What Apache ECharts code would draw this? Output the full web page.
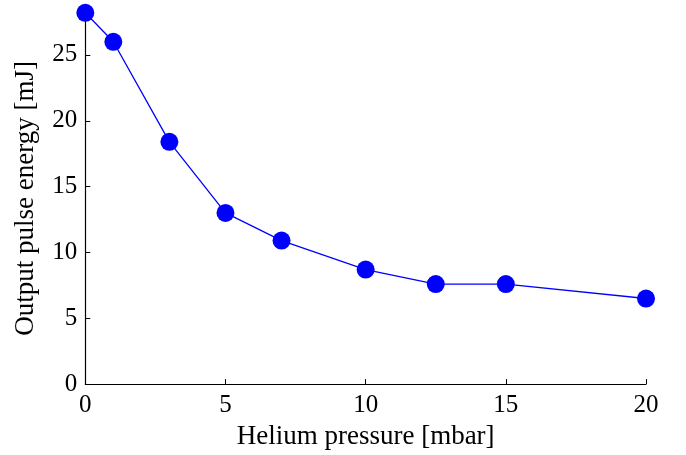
<!DOCTYPE html>
<html><head><meta charset="utf-8">
<script src="https://cdn.jsdelivr.net/npm/echarts@6/dist/echarts.min.js"></script>
<style>html,body{margin:0;padding:0;background:#fff}#c{width:686px;height:455px}</style>
</head><body><div id="c"></div>
<script>
var pressure = [0, 1, 3, 5, 7, 10, 12.5, 15, 20];
var energy = [28.2, 26.0, 18.4, 13.0, 10.9, 8.7, 7.6, 7.6, 6.5];
var xTicks = [0, 5, 10, 15, 20];
var yTicks = [0, 5, 10, 15, 20, 25];
var xTitle = 'Helium pressure [mbar]';
var yTitle = 'Output pulse energy [mJ]';

var font = 'Liberation Serif';
var chart = echarts.init(document.getElementById('c'));
chart.setOption({
  animation: false,
  grid: {left: 85.3, right: 40, top: 12.8, bottom: 70},
  xAxis: {
    type: 'value', min: 0, max: 20, interval: 5,
    name: xTitle, nameLocation: 'middle', nameGap: 36,
    nameTextStyle: {fontFamily: font, fontSize: 27, color: '#000'},
    axisLine: {show: true, lineStyle: {color: '#000', width: 1.2}},
    axisTick: {show: true, inside: true, length: 5, lineStyle: {color: '#000'}},
    axisLabel: {fontFamily: font, fontSize: 25, color: '#000', margin: 9},
    splitLine: {show: false}
  },
  yAxis: {
    type: 'value', min: 0, max: 28.2, interval: 5,
    name: yTitle, nameLocation: 'middle', nameGap: 46, nameRotate: 90,
    nameTextStyle: {fontFamily: font, fontSize: 27, color: '#000'},
    axisLine: {show: true, lineStyle: {color: '#000', width: 1.2}},
    axisTick: {show: true, inside: true, length: 5, lineStyle: {color: '#000'}},
    axisLabel: {fontFamily: font, fontSize: 25, color: '#000', margin: 8,
      formatter: function (v) { return yTicks.indexOf(v) >= 0 ? String(v) : ''; }},
    splitLine: {show: false}
  },
  series: [{
    type: 'line',
    data: pressure.map(function (p, i) { return [p, energy[i]]; }),
    symbol: 'circle', symbolSize: 18,
    lineStyle: {color: '#0000ff', width: 1.3},
    itemStyle: {color: '#0000ff'},
    clip: false
  }]
});
</script></body></html>
